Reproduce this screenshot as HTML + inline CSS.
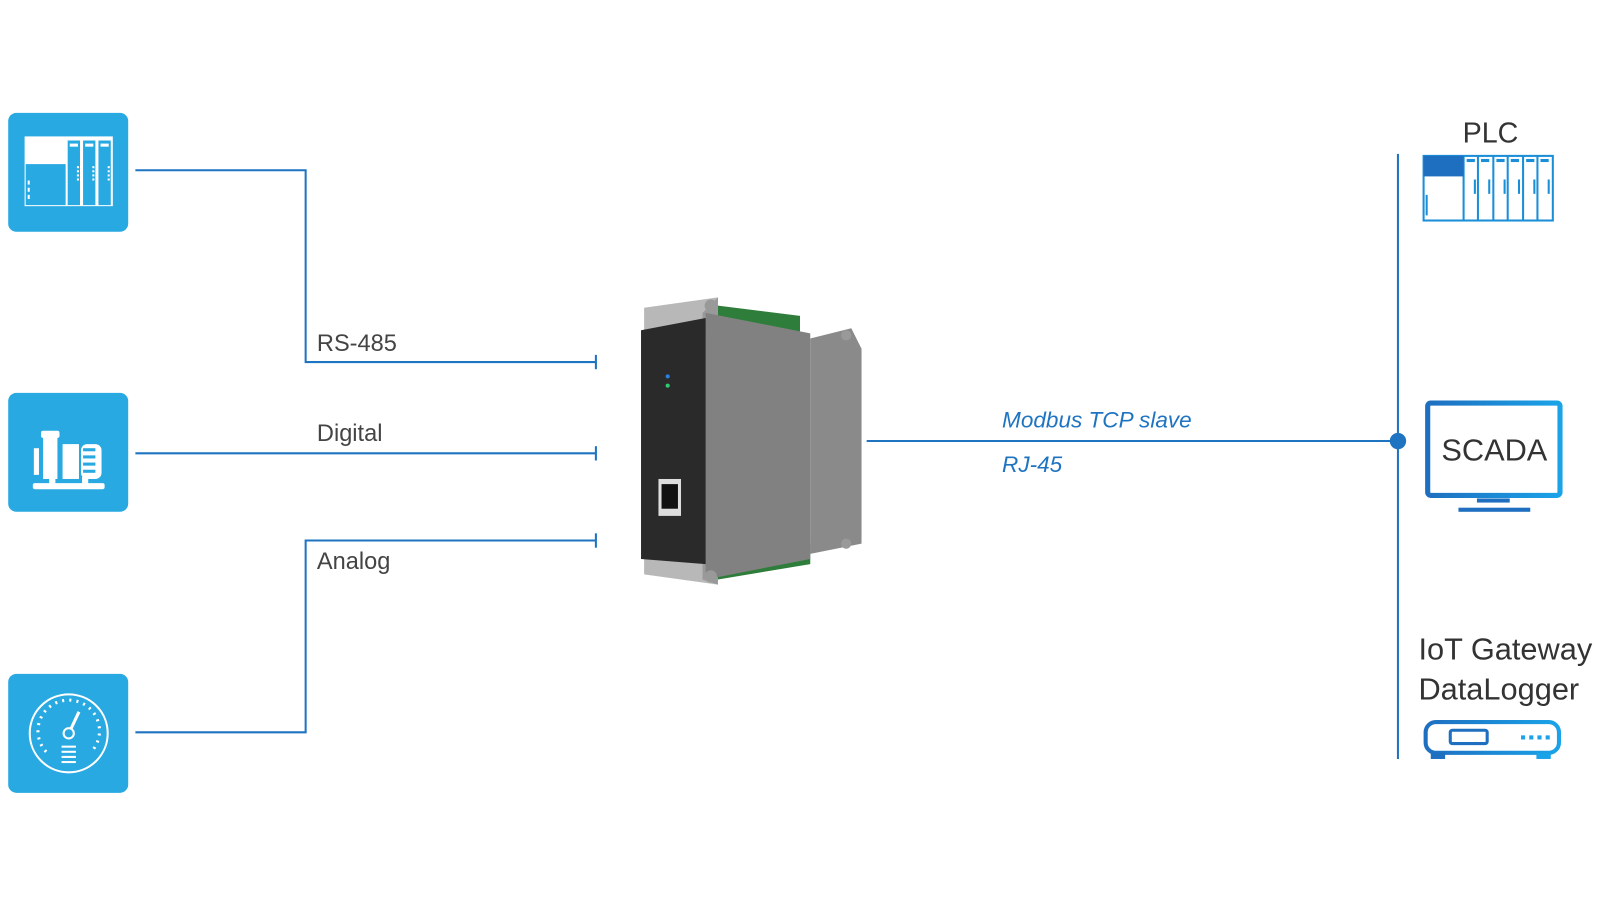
<!DOCTYPE html>
<html><head><meta charset="utf-8"><style>
html,body{margin:0;padding:0;background:#fff;}
svg{display:block;}
text{font-family:"Liberation Sans",sans-serif;}
</style></head><body>
<svg width="1600" height="900" viewBox="0 0 1560 877.5" xmlns="http://www.w3.org/2000/svg">
<defs>
<linearGradient id="g" x1="0" x2="1"><stop offset="0" stop-color="#1e6fc0"/><stop offset="1" stop-color="#1aa3e8"/></linearGradient>
</defs>
<!-- left icons -->
<rect x="8" y="110" width="117" height="116" rx="8" fill="#29a9e1"/>
<rect x="24" y="133" width="86" height="68" fill="#fff"/>
<rect x="25" y="160" width="39" height="40" fill="#29a9e1"/>
<rect x="66" y="137" width="12" height="63" fill="#29a9e1"/>
<rect x="81" y="137" width="12" height="63" fill="#29a9e1"/>
<rect x="96" y="137" width="12" height="63" fill="#29a9e1"/>
<rect x="68" y="140" width="8" height="3" fill="#fff"/><rect x="83" y="140" width="8" height="3" fill="#fff"/><rect x="98" y="140" width="8" height="3" fill="#fff"/>
<g fill="#fff"><rect x="27" y="176" width="2" height="4"/><rect x="27" y="183" width="2" height="4"/><rect x="27" y="190" width="2" height="4"/>
<rect x="75" y="162" width="2" height="2"/><rect x="75" y="166" width="2" height="2"/><rect x="75" y="170" width="2" height="2"/><rect x="75" y="174" width="2" height="2"/>
<rect x="90" y="162" width="2" height="2"/><rect x="90" y="166" width="2" height="2"/><rect x="90" y="170" width="2" height="2"/><rect x="90" y="174" width="2" height="2"/>
<rect x="105" y="162" width="2" height="2"/><rect x="105" y="166" width="2" height="2"/><rect x="105" y="170" width="2" height="2"/><rect x="105" y="174" width="2" height="2"/></g>

<rect x="8" y="383" width="117" height="116" rx="8" fill="#29a9e1"/>
<g fill="#fff">
<rect x="40" y="420" width="18" height="7" rx="2"/>
<rect x="42" y="427" width="14" height="40"/>
<rect x="33" y="437" width="5" height="26"/>
<rect x="61" y="433" width="16" height="34"/>
<rect x="79" y="433" width="20" height="34" rx="6"/>
<rect x="32" y="471" width="70" height="6" rx="2"/>
<rect x="48" y="465" width="6" height="8"/><rect x="80" y="465" width="6" height="8"/>
</g>
<g fill="#29a9e1"><rect x="81" y="437" width="12" height="3"/><rect x="81" y="444" width="12" height="3"/><rect x="81" y="451" width="12" height="3"/><rect x="81" y="458" width="12" height="3"/></g>

<rect x="8" y="657" width="117" height="116" rx="8" fill="#29a9e1"/>
<circle cx="67" cy="715" r="38" fill="none" stroke="#fff" stroke-width="2"/>
<path d="M45 733 A30 30 0 1 1 89 733" fill="none" stroke="#fff" stroke-width="3" stroke-dasharray="2 5"/>
<circle cx="67" cy="715" r="5" fill="none" stroke="#fff" stroke-width="2"/>
<line x1="69" y1="711" x2="77" y2="694" stroke="#fff" stroke-width="3"/>
<g stroke="#fff" stroke-width="2"><line x1="60" y1="728" x2="74" y2="728"/><line x1="60" y1="733" x2="74" y2="733"/><line x1="60" y1="738" x2="74" y2="738"/><line x1="60" y1="743" x2="74" y2="743"/></g>

<!-- connectors -->
<g stroke="#1f74c2" stroke-width="2" fill="none">
<polyline points="132,166 298,166 298,353 581,353"/>
<line x1="581" y1="346" x2="581" y2="360"/>
<line x1="132" y1="442" x2="581" y2="442"/>
<line x1="581" y1="435" x2="581" y2="449"/>
<polyline points="132,714 298,714 298,527 581,527"/>
<line x1="581" y1="520" x2="581" y2="534"/>
<line x1="845" y1="430" x2="1363" y2="430"/>
<line x1="1363" y1="150" x2="1363" y2="740"/>
</g>
<circle cx="1363" cy="430" r="8" fill="#1f74c2"/>
<g fill="#444" font-size="23">
<text x="309" y="342">RS-485</text>
<text x="309" y="430">Digital</text>
<text x="309" y="555">Analog</text>
</g>
<g fill="#1f74c2" font-size="22" font-style="italic">
<text x="977" y="417">Modbus TCP slave</text>
<text x="977" y="460">RJ-45</text>
</g>

<!-- device -->
<polygon points="700,298 780,308 780,330 700,320" fill="#2e7d3a"/>
<polygon points="700,565 790,550 790,530 700,540" fill="#2e7d3a"/>
<polygon points="790,330 830,320 840,340 840,530 790,540" fill="#8a8a8a"/>
<polygon points="628,300 700,290 700,570 628,560" fill="#b8b8b8"/>
<polygon points="685,305 700,290 700,570 685,565" fill="#999"/>
<polygon points="688,305 790,325 790,545 688,565" fill="#818181"/>
<polygon points="625,322 688,310 688,550 625,545" fill="#2a2a2a"/>
<rect x="642" y="467" width="22" height="36" fill="#ddd"/>
<rect x="645" y="472" width="16" height="24" fill="#111"/>
<circle cx="651" cy="367" r="2" fill="#2a7fe0"/><circle cx="651" cy="376" r="2" fill="#2ecc71"/>
<circle cx="693" cy="298" r="6" fill="#999"/><circle cx="693" cy="562" r="6" fill="#999"/>
<circle cx="825" cy="327" r="5" fill="#999"/><circle cx="825" cy="530" r="5" fill="#999"/>

<!-- right -->
<text x="1426" y="139" font-size="28" fill="#333">PLC</text>
<g stroke="#1a8fd8" stroke-width="2" fill="none">
<rect x="1388" y="152" width="126" height="63"/>
<line x1="1427" y1="152" x2="1427" y2="215"/><line x1="1441" y1="152" x2="1441" y2="215"/><line x1="1456" y1="152" x2="1456" y2="215"/><line x1="1470" y1="152" x2="1470" y2="215"/><line x1="1485" y1="152" x2="1485" y2="215"/><line x1="1499" y1="152" x2="1499" y2="215"/>
</g>
<rect x="1388" y="152" width="39" height="20" fill="#1e6fc0"/>
<g fill="#1a8fd8"><rect x="1430" y="155" width="8" height="3"/><rect x="1444" y="155" width="8" height="3"/><rect x="1459" y="155" width="8" height="3"/><rect x="1473" y="155" width="8" height="3"/><rect x="1488" y="155" width="8" height="3"/><rect x="1502" y="155" width="8" height="3"/>
<rect x="1437" y="175" width="2" height="14"/><rect x="1451" y="175" width="2" height="14"/><rect x="1466" y="175" width="2" height="14"/><rect x="1480" y="175" width="2" height="14"/><rect x="1495" y="175" width="2" height="14"/><rect x="1509" y="175" width="2" height="14"/>
<rect x="1390" y="190" width="2" height="20"/></g>

<rect x="1392" y="393" width="129" height="90" rx="3" fill="none" stroke="url(#g)" stroke-width="5"/>
<rect x="1440" y="486" width="32" height="4" fill="#1e6fc0"/>
<rect x="1422" y="495" width="70" height="4" fill="#1e6fc0"/>
<text x="1457" y="449" font-size="30" fill="#333" text-anchor="middle">SCADA</text>

<text x="1383" y="643" font-size="30" fill="#333">IoT Gateway</text>
<text x="1383" y="682" font-size="30" fill="#333">DataLogger</text>
<rect x="1390" y="704" width="130" height="30" rx="10" fill="none" stroke="url(#g)" stroke-width="4"/>
<rect x="1414" y="712" width="36" height="13" rx="2" fill="none" stroke="#1e6fc0" stroke-width="3"/>
<g fill="#1aa3e8"><rect x="1483" y="717" width="4" height="4"/><rect x="1491" y="717" width="4" height="4"/><rect x="1499" y="717" width="4" height="4"/><rect x="1507" y="717" width="4" height="4"/></g>
<rect x="1395" y="734" width="14" height="6" fill="#1e6fc0"/><rect x="1498" y="734" width="14" height="6" fill="#1aa3e8"/>
</svg>
</body></html>
